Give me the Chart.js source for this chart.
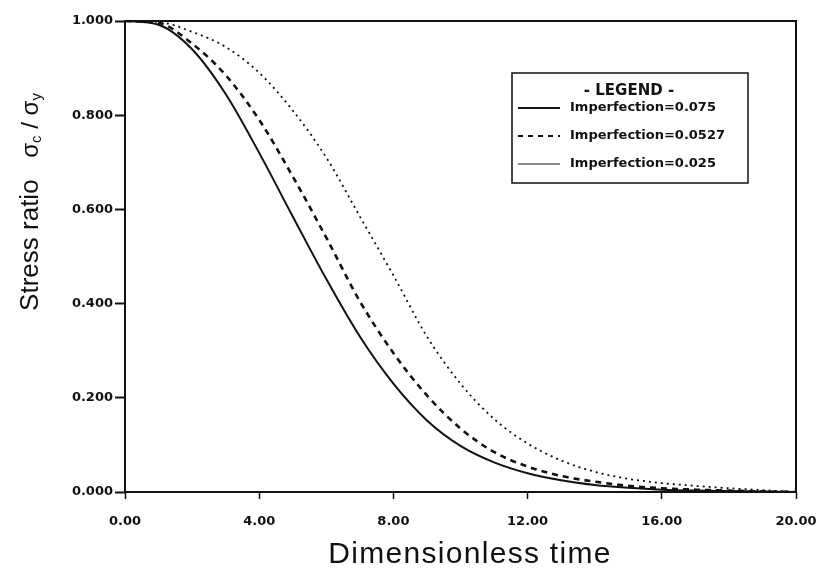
<!DOCTYPE html>
<html>
<head>
<meta charset="utf-8">
<title>Stress ratio vs dimensionless time</title>
<script src="https://cdn.jsdelivr.net/npm/chart.js@4.4.1/dist/chart.umd.min.js"></script>
<style>
  html, body { margin: 0; padding: 0; background: #fff; }
  #wrap { width: 817px; height: 572px; }
</style>
</head>
<body>
<div id="wrap"><canvas id="stressChart" width="817" height="572"></canvas></div>
<script>
// Data
const timeValues = [0, 1, 2, 3, 4, 5, 6, 7, 8, 9, 10, 11, 12, 13, 14, 15, 16, 17, 18, 19, 20];
const imp075  = [1.000, 0.992, 0.940, 0.845, 0.720, 0.585, 0.452, 0.330, 0.230, 0.152, 0.098, 0.063, 0.040, 0.025, 0.015, 0.009, 0.005, 0.003, 0.002, 0.001, 0.000];
const imp0527 = [1.000, 0.996, 0.952, 0.885, 0.790, 0.670, 0.540, 0.405, 0.295, 0.205, 0.135, 0.085, 0.054, 0.034, 0.022, 0.013, 0.008, 0.005, 0.003, 0.001, 0.000];
const imp025  = [1.000, 0.998, 0.977, 0.945, 0.890, 0.810, 0.710, 0.585, 0.460, 0.330, 0.230, 0.155, 0.103, 0.067, 0.043, 0.028, 0.019, 0.013, 0.008, 0.004, 0.000];

const seriesLabels = ['Imperfection=0.075', 'Imperfection=0.0527', 'Imperfection=0.025'];
const xTickLabels = ['0.00', '4.00', '8.00', '12.00', '16.00', '20.00'];
const yTickLabels = ['0.000', '0.200', '0.400', '0.600', '0.800', '1.000'];
const xTitle = 'Dimensionless time';

function toPoints(values) {
  return values.map((v, i) => ({ x: timeValues[i], y: v }));
}

const INK = '#111';
const tickFont = { family: 'DejaVu Sans', size: 13, weight: 'bold' };

// frame, legend box and axis titles
const decorPlugin = {
  id: 'decor',
  afterDraw(chart) {
    const ctx = chart.ctx;
    const a = chart.chartArea;
    ctx.save();

    // plot frame
    ctx.strokeStyle = INK;
    ctx.lineWidth = 2;
    ctx.strokeRect(a.left, a.top, a.right - a.left, a.bottom - a.top);

    // legend box
    const box = { x: 512, y: 73, w: 236, h: 110 };
    ctx.lineWidth = 1.5;
    ctx.strokeRect(box.x, box.y, box.w, box.h);
    ctx.fillStyle = INK;
    ctx.font = 'bold 15px "DejaVu Sans"';
    ctx.textBaseline = 'middle';
    ctx.textAlign = 'center';
    ctx.fillText('- LEGEND -', box.x + 117, box.y + 18);
    ctx.font = 'bold 13px "DejaVu Sans"';
    ctx.textAlign = 'left';
    chart.data.datasets.forEach((ds, i) => {
      const y = box.y + 35 + i * 28;
      ctx.beginPath();
      ctx.setLineDash(ds.legendDash || []);
      ctx.lineWidth = ds.legendWidth || ds.borderWidth;
      ctx.moveTo(box.x + 6, y);
      ctx.lineTo(box.x + 48, y);
      ctx.stroke();
      ctx.setLineDash([]);
      ctx.fillText(ds.label, box.x + 58, y);
    });

    // x axis title
    ctx.font = '30px "Liberation Sans"';
    ctx.letterSpacing = '1.3px';
    ctx.textAlign = 'center';
    ctx.fillText(xTitle, 470, 555);
    ctx.letterSpacing = '0px';

    // y axis title with subscripts
    const parts = [
      { t: 'Stress ratio   ', s: 26, dy: 0 },
      { t: 'σ', s: 24, dy: 0 },
      { t: 'c', s: 15, dy: 6 },
      { t: ' / ', s: 24, dy: 0 },
      { t: 'σ', s: 24, dy: 0 },
      { t: 'y', s: 15, dy: 6 }
    ];
    let total = 0;
    parts.forEach(p => {
      ctx.font = p.s + 'px "Liberation Sans"';
      p.w = ctx.measureText(p.t).width;
      total += p.w;
    });
    ctx.translate(31, 202);
    ctx.rotate(-Math.PI / 2);
    ctx.textAlign = 'left';
    let x = -total / 2;
    parts.forEach(p => {
      ctx.font = p.s + 'px "Liberation Sans"';
      ctx.fillText(p.t, x, p.dy);
      x += p.w;
    });
    ctx.restore();
  }
};

new Chart(document.getElementById('stressChart'), {
  type: 'line',
  data: {
    datasets: [
      {
        label: seriesLabels[0],
        data: toPoints(imp075),
        borderColor: INK,
        borderWidth: 2,
        legendWidth: 2
      },
      {
        label: seriesLabels[1],
        data: toPoints(imp0527),
        borderColor: INK,
        borderWidth: 2.6,
        borderDash: [6, 5],
        legendDash: [5, 5],
        legendWidth: 2
      },
      {
        label: seriesLabels[2],
        data: toPoints(imp025),
        borderColor: INK,
        borderWidth: 1.8,
        borderDash: [2, 4],
        legendDash: [],
        legendWidth: 1
      }
    ]
  },
  options: {
    responsive: false,
    animation: false,
    layout: { padding: { top: 21, right: 21, left: 0, bottom: 0 } },
    elements: {
      point: { radius: 0 },
      line: { cubicInterpolationMode: 'monotone', fill: false }
    },
    plugins: {
      legend: { display: false },
      tooltip: { enabled: false }
    },
    scales: {
      x: {
        type: 'linear',
        min: 0,
        max: 20,
        afterFit(scale) {
          scale.height = 80;
          scale.paddingLeft = 0;
          scale.paddingRight = 0;
        },
        afterBuildTicks(scale) {
          scale.ticks = xTickLabels.map(s => ({ value: parseFloat(s) }));
        },
        border: { display: false },
        grid: { drawOnChartArea: false, tickLength: 7, tickWidth: 1.5, tickColor: INK },
        ticks: {
          color: INK,
          font: tickFont,
          padding: 15,
          maxRotation: 0,
          autoSkip: false,
          callback: (v, i) => xTickLabels[i]
        }
      },
      y: {
        type: 'linear',
        min: 0,
        max: 1,
        afterFit(scale) {
          scale.width = 125;
          scale.paddingTop = 0;
          scale.paddingBottom = 0;
        },
        afterBuildTicks(scale) {
          scale.ticks = yTickLabels.map(s => ({ value: parseFloat(s) }));
        },
        border: { display: false },
        grid: { drawOnChartArea: false, tickLength: 10, tickWidth: 2, tickColor: INK },
        ticks: {
          color: INK,
          font: tickFont,
          padding: 2,
          autoSkip: false,
          callback: (v, i) => yTickLabels[i]
        }
      }
    }
  },
  plugins: [decorPlugin]
});
</script>
</body>
</html>
